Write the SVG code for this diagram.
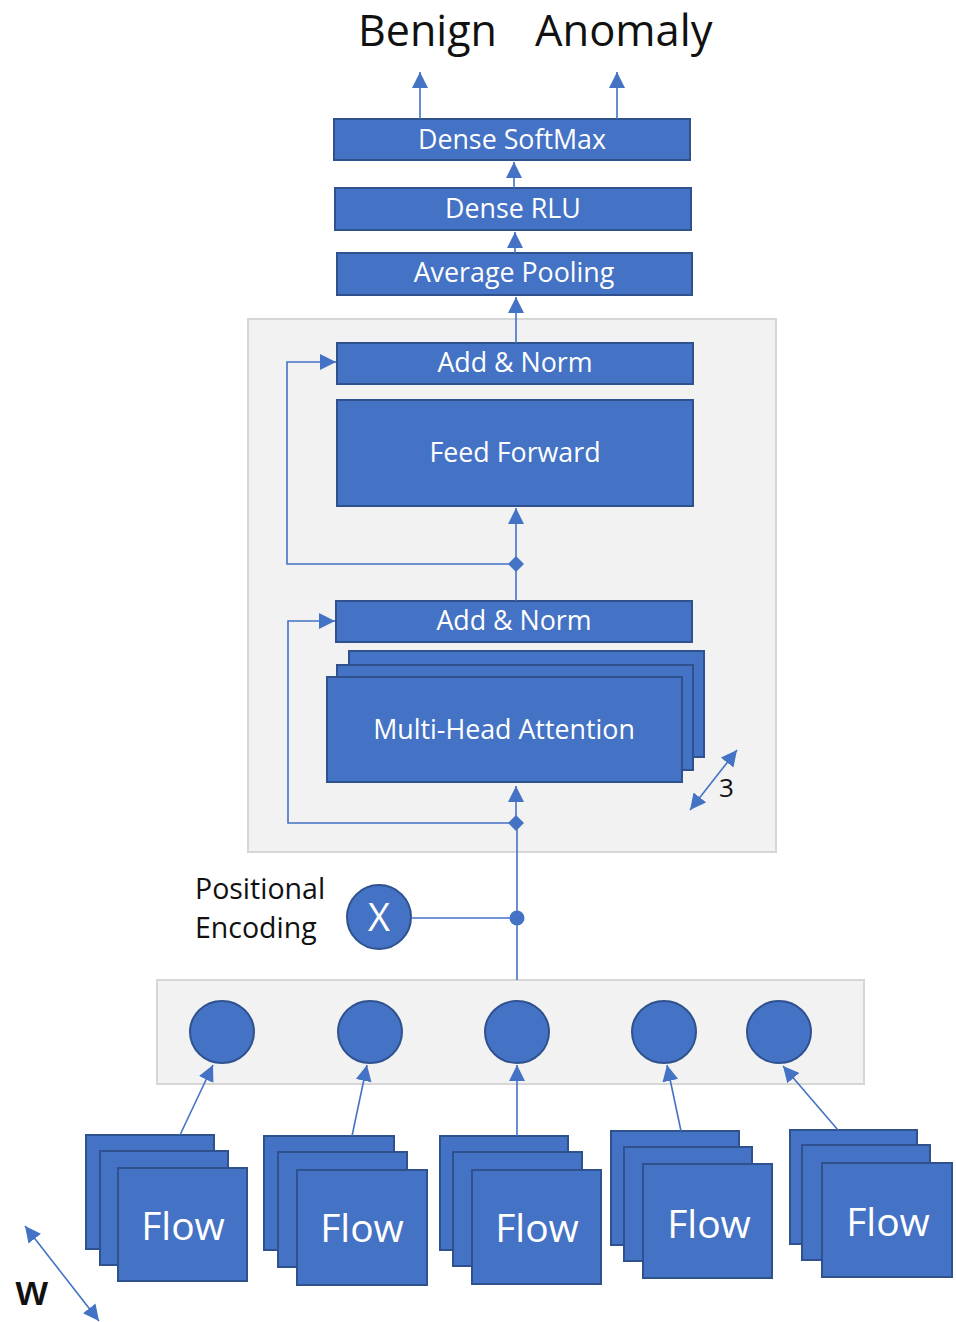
<svg xmlns="http://www.w3.org/2000/svg" width="956" height="1322" viewBox="0 0 956 1322">
  <defs>
    <marker id="arrow" viewBox="0 0 10 10" refX="10" refY="5" markerWidth="16" markerHeight="16" markerUnits="userSpaceOnUse" orient="auto-start-reverse">
      <path d="M0,0 L10,5 L0,10 z" fill="#4472C4"/>
    </marker>
    <style>
      .box { fill: #4472C4; stroke: #2F528F; stroke-width: 2; }
      .panel { fill: #F2F2F2; stroke: #D6D6D6; stroke-width: 2; }
      .lbl { fill: #FFFFFF; font-family: "Open Sans", "Noto Sans", sans-serif; font-size: 26.8px; text-anchor: middle; }
      .flow { fill: #FFFFFF; font-family: "Open Sans", "Noto Sans", sans-serif; font-size: 39px; text-anchor: middle; }
      .dark { fill: #111111; font-family: "Open Sans", "Noto Sans", sans-serif; }
      .wire { fill: none; stroke: #4472C4; stroke-width: 1.6; }
      .arr { fill: none; stroke: #4472C4; stroke-width: 1.6; marker-end: url(#arrow); }
      .dbl { fill: none; stroke: #4472C4; stroke-width: 1.6; marker-start: url(#arrow); marker-end: url(#arrow); }
      .node { fill: #4472C4; stroke: #2F528F; stroke-width: 2; }
    </style>
  </defs>

  <rect width="956" height="1322" fill="#FFFFFF"/>

  <!-- background panels -->
  <rect id="encoder-panel" class="panel" x="248" y="319" width="528" height="533"/>
  <rect id="embedding-panel" class="panel" x="157" y="980" width="707" height="104"/>

  <!-- output labels -->
  <g id="out-benign"><text class="dark" x="358" y="46" font-size="43">Benign</text></g>
  <g id="out-anomaly"><text class="dark" x="535" y="46" font-size="43.5">Anomaly</text></g>

  <!-- classifier head -->
  <g id="dense-softmax">
    <rect class="box" x="334" y="119" width="356" height="41"/>
    <text class="lbl" x="512" y="149">Dense SoftMax</text>
  </g>
  <g id="dense-rlu">
    <rect class="box" x="335" y="188" width="356" height="42"/>
    <text class="lbl" x="513" y="218">Dense RLU</text>
  </g>
  <g id="average-pooling">
    <rect class="box" x="337" y="253" width="355" height="42"/>
    <text class="lbl" x="514" y="282">Average Pooling</text>
  </g>

  <!-- encoder block -->
  <g id="add-norm-2">
    <rect class="box" x="337" y="343" width="356" height="41"/>
    <text class="lbl" x="515" y="372">Add &amp; Norm</text>
  </g>
  <g id="feed-forward">
    <rect class="box" x="337" y="400" width="356" height="106"/>
    <text class="lbl" x="515" y="462">Feed Forward</text>
  </g>
  <g id="add-norm-1">
    <rect class="box" x="336" y="601" width="356" height="41"/>
    <text class="lbl" x="514" y="630">Add &amp; Norm</text>
  </g>
  <g id="multi-head-attention">
    <rect class="box" x="349" y="651" width="355" height="106"/>
    <rect class="box" x="337" y="665" width="356" height="105"/>
    <rect class="box" x="327" y="677" width="355" height="105"/>
    <text class="lbl" x="504" y="739" font-size="27.5">Multi-Head Attention</text>
  </g>
  <g id="heads-count">
    <text class="dark" x="719" y="797" font-size="26">3</text>
  </g>

  <!-- positional encoding -->
  <g id="positional-encoding">
    <text class="dark" x="195" y="899" font-size="28.5">Positional</text>
    <text class="dark" x="195" y="938" font-size="28.5">Encoding</text>
    <circle class="node" cx="379" cy="917" r="32"/>
    <text x="379" y="931" fill="#FFFFFF" font-family="Open Sans, Noto Sans, sans-serif" font-size="38" text-anchor="middle">X</text>
  </g>

  <!-- embedding tokens -->
  <g id="tokens">
    <ellipse class="node" cx="222" cy="1032" rx="32" ry="31"/>
    <ellipse class="node" cx="370" cy="1032" rx="32" ry="31"/>
    <ellipse class="node" cx="517" cy="1032" rx="32" ry="31"/>
    <ellipse class="node" cx="664" cy="1032" rx="32" ry="31"/>
    <ellipse class="node" cx="779" cy="1032" rx="32" ry="31"/>
  </g>

  <!-- flow stacks -->
  <g id="flow-1">
    <rect class="box" x="86" y="1135" width="128" height="114"/>
    <rect class="box" x="100" y="1151" width="128" height="114"/>
    <rect class="box" x="118" y="1168" width="129" height="113"/>
    <text class="flow" x="183" y="1240">Flow</text>
  </g>
  <g id="flow-2">
    <rect class="box" x="264" y="1136" width="130" height="114"/>
    <rect class="box" x="278" y="1152" width="129" height="115"/>
    <rect class="box" x="297" y="1170" width="130" height="115"/>
    <text class="flow" x="362" y="1242">Flow</text>
  </g>
  <g id="flow-3">
    <rect class="box" x="440" y="1136" width="128" height="114"/>
    <rect class="box" x="453" y="1152" width="129" height="114"/>
    <rect class="box" x="472" y="1170" width="129" height="114"/>
    <text class="flow" x="537" y="1242">Flow</text>
  </g>
  <g id="flow-4">
    <rect class="box" x="611" y="1131" width="128" height="114"/>
    <rect class="box" x="624" y="1147" width="128" height="114"/>
    <rect class="box" x="643" y="1164" width="129" height="114"/>
    <text class="flow" x="709" y="1238">Flow</text>
  </g>
  <g id="flow-5">
    <rect class="box" x="790" y="1130" width="127" height="114"/>
    <rect class="box" x="802" y="1145" width="128" height="115"/>
    <rect class="box" x="822" y="1163" width="130" height="114"/>
    <text class="flow" x="888" y="1236">Flow</text>
  </g>

  <g id="window-label">
    <text class="dark" x="15" y="1305" font-size="41" font-weight="600">w</text>
  </g>

  <!-- connectors -->
  <g id="connectors">
    <line class="arr" x1="420" y1="119" x2="420" y2="72"/>
    <line class="arr" x1="617" y1="119" x2="617" y2="72"/>
    <line class="arr" x1="514" y1="188" x2="514" y2="162"/>
    <line class="arr" x1="515" y1="253" x2="515" y2="232"/>
    <line class="arr" x1="516" y1="343" x2="516" y2="297"/>

    <line class="arr" x1="516" y1="564" x2="516" y2="508"/>
    <polyline class="arr" points="516,564 287,564 287,362 336,362"/>
    <line class="wire" x1="516" y1="564" x2="516" y2="601"/>
    <path d="M516,556 L524,564 L516,572 L508,564 z" fill="#4472C4"/>

    <line class="arr" x1="516" y1="823" x2="516" y2="786"/>
    <polyline class="arr" points="516,823 288,823 288,621 335,621"/>
    <path d="M516,815 L524,823 L516,831 L508,823 z" fill="#4472C4"/>
    <line class="wire" x1="517" y1="823" x2="517" y2="980"/>
    <line class="wire" x1="411" y1="918" x2="517" y2="918"/>
    <circle cx="517" cy="918" r="7.5" fill="#4472C4"/>

    <line class="dbl" x1="690" y1="810" x2="737" y2="750"/>
    <line class="dbl" x1="25" y1="1226" x2="99" y2="1321"/>

    <line class="arr" x1="180" y1="1135" x2="213" y2="1065"/>
    <line class="arr" x1="352" y1="1136" x2="367" y2="1065"/>
    <line class="arr" x1="517" y1="1136" x2="517" y2="1065"/>
    <line class="arr" x1="681" y1="1131" x2="667" y2="1065"/>
    <line class="arr" x1="838" y1="1130" x2="783" y2="1066"/>
  </g>
</svg>
